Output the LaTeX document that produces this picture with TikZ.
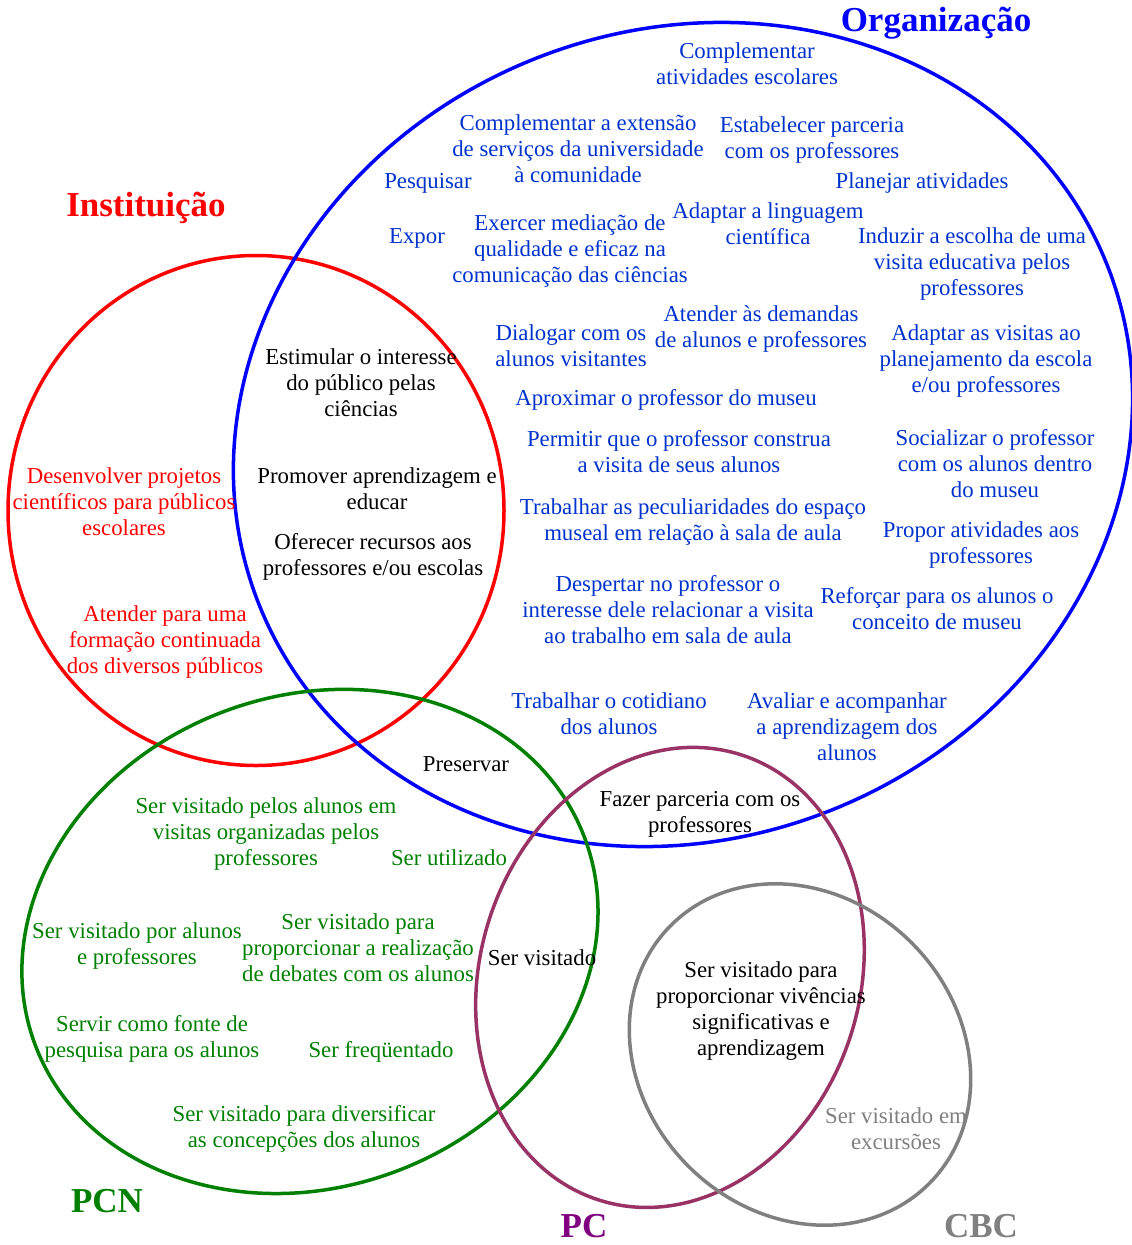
\documentclass[tikz,border=0pt]{standalone}
\usepackage{fontspec}
\setmainfont{Liberation Serif}
\usepackage{tikz}

\definecolor{orgblue}{RGB}{0,51,204}
\definecolor{pcline}{RGB}{153,51,102}
\definecolor{pcpurple}{RGB}{128,0,128}
\definecolor{pcngreen}{RGB}{0,128,0}
\definecolor{cbcgray}{RGB}{128,128,128}

\begin{document}
\begin{tikzpicture}[x=1pt,y=-1pt,
    every node/.style={align=center,inner sep=0pt,yshift=-2.5pt,font=\fontsize{22.8}{26}\selectfont},
    ring/.style={line width=3.5pt},
    title/.style={yshift=-0.5pt,font=\fontsize{35}{40}\selectfont\bfseries},
    org/.style={text=orgblue},
    inst/.style={text=red},
    pcn/.style={text=pcngreen},
    cbc/.style={text=cbcgray}]
		\useasboundingbox (0,0) rectangle (1132,1245);

		\coordinate (c_inst) at (256,508);
		\coordinate (c_org)  at (683,432);
		\coordinate (c_pcn)  at (310,939);
		\coordinate (c_pc)   at (670,975);
		\coordinate (c_cbc)  at (800,1052);

		\draw[ring,red] (c_inst) ellipse [x radius=248, y radius=255];
		\draw[ring,blue,rotate around={22.4:(c_org)}] (c_org) ellipse [x radius=456.8, y radius=403.9];
		\draw[ring,pcngreen,rotate around={20.75:(c_pcn)}] (c_pcn) ellipse [x radius=293.6, y radius=245.5];
		\draw[ring,pcline,rotate around={-17.7:(c_pc)}] (c_pc) ellipse [x radius=189.8, y radius=233.7];
		\draw[ring,cbcgray,rotate around={-45:(c_cbc)}] (c_cbc) ellipse [x radius=182.6, y radius=157.9];

		% titulos
		\node[title,text=blue] (t_org) at (936,20) {Organização};
		\node[title,text=red] (t_inst) at (146,205) {Instituição};
		\node[title,text=pcngreen] (t_pcn) at (107,1198) {PCN};
		\node[title,text=pcpurple] (t_pc) at (584,1223) {PC};
		\node[title,text=cbcgray] (t_cbc) at (981,1223) {CBC};

		% Organizacao
		\node[org] (o_compl) at (747,61) {Complementar\\atividades escolares};
		\node[org] (o_ext) at (578,146) {Complementar a extensão\\de serviços da universidade\\à comunidade};
		\node[org] (o_parc) at (812,138) {Estabelecer parceria\\com os professores};
		\node[org] (o_pesq) at (428,181) {Pesquisar};
		\node[org] (o_plan) at (922,181) {Planejar atividades};
		\node[org] (o_expor) at (417,236) {Expor};
		\node[org] (o_med) at (570,249) {Exercer mediação de\\qualidade e eficaz na\\comunicação das ciências};
		\node[org] (o_ling) at (768,221) {Adaptar a linguagem\\científica};
		\node[org] (o_ind) at (972,262) {Induzir a escolha de uma\\visita educativa pelos\\professores};
		\node[org] (o_dem) at (761,326) {Atender às demandas\\de alunos e professores};
		\node[org] (o_dial) at (571,343) {Dialogar com os\\alunos visitantes};
		\node[org] (o_adap) at (986,359) {Adaptar as visitas ao\\planejamento da escola\\e/ou professores};
		\node[org] (o_aprox) at (666,397) {Aproximar o professor do museu};
		\node[org] (o_perm) at (679,449) {Permitir que o professor construa\\a visita de seus alunos};
		\node[org] (o_soc) at (995,461) {Socializar o professor\\com os alunos dentro\\do museu};
		\node[org] (o_pec) at (693,520) {Trabalhar as peculiaridades do espaço\\museal em relação à sala de aula};
		\node[org] (o_prop) at (981,543) {Propor atividades aos\\professores};
		\node[org] (o_desp) at (668,607) {Despertar no professor o\\interesse dele relacionar a visita\\ao trabalho em sala de aula};
		\node[org] (o_ref) at (937,606) {Reforçar para os alunos o\\conceito de museu};
		\node[org] (o_cot) at (609,711) {Trabalhar o cotidiano\\dos alunos};
		\node[org] (o_aval) at (847,724) {Avaliar e acompanhar\\a aprendizagem dos\\alunos};

		% Instituicao
		\node[inst] (i_proj) at (124,499) {Desenvolver projetos\\científicos para públicos\\escolares};
		\node[inst] (i_form) at (165,640) {Atender para uma\\formação continuada\\dos diversos públicos};

		% intersecoes
		\node (x_estim) at (361,380) {Estimular o interesse\\do público pelas\\ciências};
		\node (x_prom) at (377,486) {Promover aprendizagem e\\educar};
		\node (x_ofer) at (373,554) {Oferecer recursos aos\\professores e/ou escolas};
		\node (x_pres) at (466,762) {Preservar};
		\node (x_faz) at (700,812) {Fazer parceria com os\\professores};
		\node (x_vis) at (542,955) {Ser visitado};
		\node (x_viv) at (761,1009) {Ser visitado para\\proporcionar vivências\\significativas e\\aprendizagem};

		% PCN
		\node[pcn] (p_org) at (266,832) {Ser visitado pelos alunos em\\visitas organizadas pelos\\professores};
		\node[pcn] (p_util) at (449,855) {Ser utilizado};
		\node[pcn] (p_alun) at (137,944) {Ser visitado por alunos\\e professores};
		\node[pcn] (p_deb) at (358,945) {Ser visitado para\\proporcionar a realização\\de debates com os alunos};
		\node[pcn] (p_font) at (152,1036) {Servir como fonte de\\pesquisa para os alunos};
		\node[pcn] (p_freq) at (381,1049) {Ser freqüentado};
		\node[pcn] (p_div) at (304,1126) {Ser visitado para diversificar\\as concepções dos alunos};

		% CBC
		\node[cbc] (c_exc) at (896,1126) {Ser visitado em\\excursões};

\end{tikzpicture}
\end{document}
